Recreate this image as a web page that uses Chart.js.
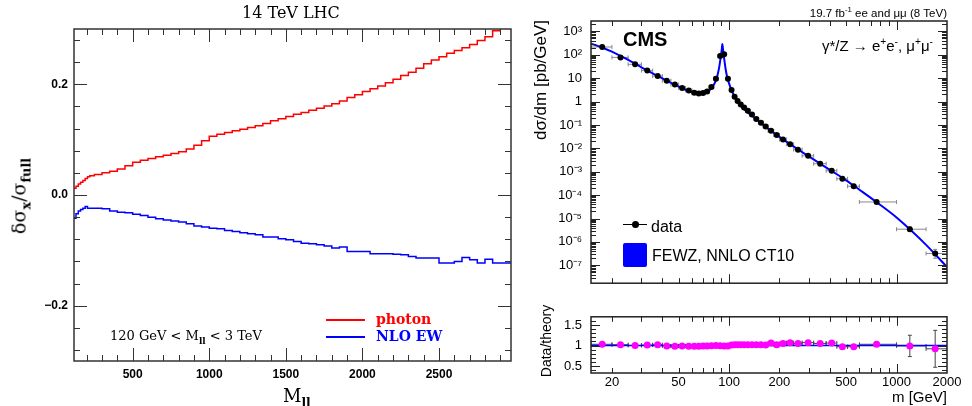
<!DOCTYPE html>
<html lang="en">
<head>
<meta charset="UTF-8">
<title>Photon / NLO EW corrections and CMS Drell-Yan cross section</title>
<script src="https://cdn.jsdelivr.net/npm/chart.js"></script>
<style>
  body { margin: 0; background: #fff; }
  #wrap { position: relative; width: 972px; height: 406px; overflow: hidden; }
  canvas { position: absolute; }
  .t { position: absolute; white-space: nowrap; line-height: 1; color: #000; }
  .serif { font-family: "DejaVu Serif", serif; }
  .sans { font-family: "Liberation Sans", Arial, sans-serif; }
  .rot { transform: translate(-50%, -50%) rotate(-90deg); }
  sub, sup { font-size: 68%; line-height: 0; }
  .box { position: absolute; }
</style>
</head>
<body>
<div id="wrap">
  <canvas id="leftChart" width="520" height="406" style="left:0;top:0"></canvas>
  <canvas id="xsecChart" width="452" height="300" style="left:520px;top:0"></canvas>
  <canvas id="ratioChart" width="452" height="106" style="left:520px;top:300px"></canvas>

  <!-- left panel texts -->
  <div class="t serif" style="left:242px;top:5px;font-size:16px">14 TeV LHC</div>
  <div class="t serif rot" style="left:19px;top:196px;font-size:19px">δσ<sub style="font-weight:bold">x</sub>/σ<sub style="font-weight:bold">full</sub></div>
  <div class="t serif" style="left:283px;top:387px;font-size:18px">M<sub style="font-weight:bold">ll</sub></div>
  <div class="t serif" style="left:110px;top:329px;font-size:13px">120 GeV &lt; M<sub style="font-weight:bold">ll</sub> &lt; 3 TeV</div>
  <div class="box" style="left:326px;top:319px;width:39px;height:1.5px;background:#ff0000"></div>
  <div class="t serif" style="left:376px;top:312px;font-size:14px;font-weight:bold;color:#ff0000">photon</div>
  <div class="box" style="left:326px;top:336px;width:39px;height:1.5px;background:#0000ff"></div>
  <div class="t serif" style="left:376px;top:329px;font-size:14px;font-weight:bold;color:#0000ff">NLO EW</div>

  <!-- right panel texts -->
  <div class="t sans" style="left:623px;top:29px;font-size:20px;font-weight:bold">CMS</div>
  <div class="t sans" style="right:25px;top:8px;font-size:11.5px">19.7 fb<sup>-1</sup> ee and μμ (8 TeV)</div>
  <div class="t sans" style="right:39px;top:38px;font-size:15px">γ*/Z → e<sup>+</sup>e<sup>-</sup>, μ<sup>+</sup>μ<sup>-</sup></div>
  <div class="t sans rot" style="left:540px;top:80px;font-size:17px">dσ/dm [pb/GeV]</div>
  <div class="t sans rot" style="left:546px;top:341px;font-size:14px">Data/theory</div>
  <div class="t sans" style="right:25px;top:389px;font-size:15px">m [GeV]</div>
  <div class="box" style="left:623px;top:224px;width:24px;height:1px;background:#000"></div>
  <div class="box" style="left:632px;top:221px;width:7px;height:7px;border-radius:50%;background:#000"></div>
  <div class="t sans" style="left:651px;top:219px;font-size:16px">data</div>
  <div class="box" style="left:623px;top:243px;width:24px;height:24px;border-radius:2px;background:#0000ff"></div>
  <div class="t sans" style="left:652px;top:248px;font-size:16px">FEWZ, NNLO CT10</div>
</div>

<script>
// ---------- left panel: delta sigma_x / sigma_full vs M_ll (14 TeV LHC) ----------
const mllEdges = [117, 130, 145, 160, 175, 190, 205, 220,
  250, 300, 350, 400, 450, 500, 550, 600, 650, 700, 750, 800, 850, 900, 950,
  1000, 1050, 1100, 1150, 1200, 1250, 1300, 1350, 1400, 1450, 1500, 1550, 1600,
  1650, 1700, 1750, 1800, 1850, 1900, 1950, 2000, 2050, 2100, 2150, 2200, 2250,
  2300, 2350, 2400, 2450, 2500, 2550, 2600, 2650, 2700, 2750, 2800, 2850, 2900,
  2950, 3000];

const photonCorr = [0.012, 0.016, 0.020, 0.023, 0.026, 0.030, 0.033, 0.035,
  0.037, 0.040, 0.043, 0.047, 0.053, 0.059, 0.063, 0.066, 0.069, 0.072, 0.075,
  0.078, 0.083, 0.090, 0.098, 0.106, 0.110, 0.113, 0.116, 0.119, 0.122, 0.125,
  0.129, 0.134, 0.138, 0.142, 0.146, 0.149, 0.153, 0.157, 0.161, 0.165, 0.170,
  0.176, 0.181, 0.187, 0.192, 0.197, 0.203, 0.209, 0.216, 0.222, 0.229, 0.237,
  0.244, 0.250, 0.256, 0.261, 0.266, 0.272, 0.279, 0.286, 0.297, 0.305, 0.310];

const nloEwCorr = [-0.042, -0.034, -0.029, -0.026, -0.024, -0.021, -0.024, -0.024,
  -0.024, -0.025, -0.029, -0.031, -0.032, -0.035, -0.037, -0.040, -0.043, -0.045,
  -0.047, -0.049, -0.052, -0.056, -0.058, -0.060, -0.061, -0.064, -0.066, -0.068,
  -0.070, -0.072, -0.076, -0.076, -0.079, -0.081, -0.084, -0.087, -0.088, -0.090,
  -0.092, -0.096, -0.094, -0.102, -0.102, -0.102, -0.106, -0.106, -0.106, -0.107,
  -0.108, -0.111, -0.114, -0.114, -0.114, -0.123, -0.123, -0.120, -0.113, -0.117,
  -0.123, -0.116, -0.123, -0.123, -0.123];

const leftXTicks = [500, 1000, 1500, 2000, 2500];
const leftXLabels = ['500', '1000', '1500', '2000', '2500'];
const leftYTicks = [-0.2, 0, 0.2];
const leftYLabels = ['\u22120.2', '0.0', '0.2'];

// ---------- right panel: CMS dsigma/dm, 8 TeV ----------
const massEdges = [15, 20, 25, 30, 35, 40, 45, 50, 55, 60, 64, 68, 72, 76, 81, 86,
  91, 96, 101, 106, 110, 115, 120, 126, 133, 141, 150, 160, 171, 185, 200, 220,
  243, 273, 320, 380, 440, 510, 600, 1000, 1500, 2000];

const dataMass = [17.5, 22.5, 27.5, 32.5, 37.5, 42.5, 47.5, 52.5, 57.5, 62, 66, 70,
  74, 78.5, 83.5, 88.5, 93.5, 98.5, 103.5, 108, 112.5, 117.5, 123, 129.5, 137,
  145.5, 155, 165.5, 178, 192.5, 210, 231.5, 258, 296.5, 350, 410, 475, 555,
  760, 1200, 1700];

const dataXsec = [214, 77, 39, 21, 12.3, 7.7, 5.3, 3.8, 3.0, 2.4, 2.2, 2.3, 2.7,
  4.2, 9.5, 88, 105, 9.5, 3.1, 1.6, 1.05, 0.75, 0.55, 0.40, 0.28, 0.18, 0.125,
  0.085, 0.056, 0.037, 0.024, 0.015, 0.0088, 0.0048, 0.0022, 0.0011, 5.0e-4,
  2.4e-4, 5.1e-5, 3.5e-6, 3.2e-7];

const dataRelErr = [0.03, 0.03, 0.03, 0.03, 0.03, 0.03, 0.03, 0.03, 0.03, 0.03,
  0.03, 0.03, 0.03, 0.03, 0.03, 0.03, 0.03, 0.03, 0.03, 0.03, 0.03, 0.03, 0.03,
  0.03, 0.03, 0.03, 0.03, 0.03, 0.03, 0.03, 0.03, 0.03, 0.03, 0.03, 0.04, 0.05,
  0.06, 0.08, 0.1, 0.25, 0.5];

const theoryMass = [15, 17.5, 20, 25, 30, 35, 40, 45, 50, 55, 60, 65, 70, 75, 80,
  84, 87, 89, 90.5, 91.2, 92, 93.5, 95, 97, 100, 104, 110, 115, 125, 140, 160,
  200, 250, 300, 400, 500, 600, 800, 1000, 1500, 2000];

const theoryXsec = [300, 205, 135, 60, 29, 16, 9.8, 6.3, 4.4, 3.2, 2.5, 2.2, 2.2,
  2.7, 4.4, 9, 25, 70, 170, 290, 180, 70, 30, 13, 6, 2.8, 1.3, 0.8, 0.42, 0.22,
  0.1, 0.031, 0.0105, 0.0045, 0.0012, 4.3e-4, 1.7e-4, 3.8e-5, 1.1e-5, 7.5e-7, 8.5e-8];

const ratio = [1.03, 1.02, 1.00, 1.01, 1.02, 0.99, 0.985, 0.99, 0.985, 0.985, 0.985,
  0.99, 0.99, 0.995, 1.0, 0.995, 0.99, 0.99, 1.01, 1.02, 1.02, 1.02, 1.02, 1.02,
  1.02, 1.02, 1.02, 1.01, 1.06, 1.02, 1.05, 1.07, 1.05, 1.07, 1.05, 1.06, 0.97,
  0.97, 1.03, 0.99, 0.92];

const ratioErr = [0.01, 0.01, 0.01, 0.01, 0.01, 0.01, 0.01, 0.01, 0.01, 0.01, 0.01,
  0.01, 0.01, 0.01, 0.01, 0.01, 0.01, 0.01, 0.01, 0.01, 0.01, 0.01, 0.01, 0.01,
  0.01, 0.01, 0.01, 0.01, 0.02, 0.01, 0.02, 0.02, 0.02, 0.02, 0.02, 0.03, 0.04,
  0.04, 0.05, 0.26, 0.45];

const ratioLineMass = [15, 2000];
const ratioLine = [1, 1];

const xsecYTicks = [1e3, 1e2, 1e1, 1, 1e-1, 1e-2, 1e-3, 1e-4, 1e-5, 1e-6, 1e-7];
const xsecYLabels = ['10\u00b3', '10\u00b2', '10', '1', '10\u207b\u00b9', '10\u207b\u00b2',
  '10\u207b\u00b3', '10\u207b\u2074', '10\u207b\u2075', '10\u207b\u2076', '10\u207b\u2077'];
const massXTicks = [20, 50, 100, 200, 500, 1000, 2000];
const massXLabels = ['20', '50', '100', '200', '500', '1000', '2000'];
const ratioYTicks = [0.5, 1, 1.5];
const ratioYLabels = ['0.5', '1', '1.5'];

// ---------- helpers ----------
function range(a, b, step) {
  const out = [];
  for (let v = a; v <= b + step / 1e6; v += step) out.push(+v.toFixed(6));
  return out;
}
function logMinor(lo, hi) {
  const out = [];
  for (let d = lo; d <= hi; d *= 10) for (let k = 2; k <= 9; k++) out.push(k * d);
  return out;
}

// frame box + inward ticks on all four sides (ROOT style)
const frameTicks = {
  id: 'frameTicks',
  afterDatasetsDraw(chart, args, o) {
    const { ctx, chartArea: a, scales } = chart;
    ctx.save();
    ctx.strokeStyle = o.color;
    ctx.lineWidth = 1;
    ctx.beginPath();
    const marks = (vals, len, axis) => {
      const s = scales[axis];
      vals.forEach(v => {
        const p = Math.round(s.getPixelForValue(v)) + 0.5;
        if (axis === 'x') {
          if (p <= a.left + 1 || p >= a.right - 1) return;
          ctx.moveTo(p, a.bottom); ctx.lineTo(p, a.bottom - len);
          ctx.moveTo(p, a.top); ctx.lineTo(p, a.top + len);
        } else {
          if (p <= a.top + 1 || p >= a.bottom - 1) return;
          ctx.moveTo(a.left, p); ctx.lineTo(a.left + len, p);
          ctx.moveTo(a.right, p); ctx.lineTo(a.right - len, p);
        }
      });
    };
    marks(o.xMinor, o.minorLen, 'x');
    marks(o.xMajor, o.majorLen, 'x');
    marks(o.yMinor, o.minorLen, 'y');
    marks(o.yMajor, o.majorLen, 'y');
    ctx.stroke();
    ctx.lineWidth = o.lineWidth;
    ctx.strokeRect(a.left, a.top, a.width, a.height);
    ctx.restore();
  }
};

// x/y error bars taken from dataset.errorBars
const errorBars = {
  id: 'errorBars',
  beforeDatasetsDraw(chart) {
    const { ctx, chartArea: a, scales: { x, y } } = chart;
    ctx.save();
    ctx.beginPath();
    ctx.rect(a.left, a.top, a.width, a.height);
    ctx.clip();
    chart.data.datasets.forEach(ds => {
      const e = ds.errorBars;
      if (!e) return;
      ctx.strokeStyle = e.color;
      ctx.lineWidth = 1;
      ctx.beginPath();
      ds.data.forEach((pt, i) => {
        const px = x.getPixelForValue(pt.x), py = y.getPixelForValue(pt.y);
        const x0 = x.getPixelForValue(e.xlo[i]), x1 = x.getPixelForValue(e.xhi[i]);
        const y0 = y.getPixelForValue(e.ylo[i]), y1 = y.getPixelForValue(e.yhi[i]);
        ctx.moveTo(x0, py); ctx.lineTo(x1, py);
        ctx.moveTo(x0, py - 2); ctx.lineTo(x0, py + 2);
        ctx.moveTo(x1, py - 2); ctx.lineTo(x1, py + 2);
        ctx.moveTo(px, y0); ctx.lineTo(px, y1);
        ctx.moveTo(px - 2, y0); ctx.lineTo(px + 2, y0);
        ctx.moveTo(px - 2, y1); ctx.lineTo(px + 2, y1);
      });
      ctx.stroke();
    });
    ctx.restore();
  }
};

Chart.register(frameTicks, errorBars);
Chart.defaults.animation = false;
Chart.defaults.plugins.legend.display = false;
Chart.defaults.plugins.tooltip.enabled = false;
Chart.defaults.color = '#000';

const sansBold = { family: '"Liberation Sans", Arial, sans-serif', size: 12, weight: 'bold' };
const sans = { family: '"Liberation Sans", Arial, sans-serif', size: 13 };

// ---------- left chart ----------
const stepData = vals => mllEdges.map((m, i) => ({ x: m, y: vals[Math.min(i, vals.length - 1)] }));

new Chart(document.getElementById('leftChart'), {
  type: 'line',
  data: {
    datasets: [
      { label: 'photon', data: stepData(photonCorr), borderColor: '#ff0000', borderWidth: 1.5,
        stepped: true, pointRadius: 0 },
      { label: 'NLO EW', data: stepData(nloEwCorr), borderColor: '#0000ff', borderWidth: 1.5,
        stepped: true, pointRadius: 0 }
    ]
  },
  options: {
    responsive: false,
    layout: { padding: { top: 29, right: 9, left: 0, bottom: 0 } },
    scales: {
      x: {
        type: 'linear', min: 117, max: 2970,
        grid: { display: false, drawTicks: false }, border: { display: false },
        afterBuildTicks: s => { s.ticks = leftXTicks.map(v => ({ value: v })); },
        afterFit: s => { s.height = 45; },
        ticks: { font: sansBold, padding: 6, maxRotation: 0, autoSkip: false,
                 callback: (v, i) => leftXLabels[i] }
      },
      y: {
        type: 'linear', min: -0.3, max: 0.3,
        grid: { display: false, drawTicks: false }, border: { display: false },
        afterBuildTicks: s => { s.ticks = leftYTicks.map(v => ({ value: v })); },
        afterFit: s => { s.width = 74; },
        ticks: { font: sansBold, padding: 6, callback: (v, i) => leftYLabels[i] }
      }
    },
    plugins: {
      frameTicks: {
        color: '#333', lineWidth: 1.5, majorLen: 13, minorLen: 6,
        xMajor: leftXTicks, xMinor: range(200, 2900, 100),
        yMajor: leftYTicks, yMinor: range(-0.28, 0.28, 0.04)
      }
    }
  }
});

// ---------- right top chart: cross section ----------
new Chart(document.getElementById('xsecChart'), {
  type: 'line',
  data: {
    datasets: [
      {
        label: 'data',
        data: dataMass.map((m, i) => ({ x: m, y: dataXsec[i] })),
        showLine: false, pointRadius: 3, pointBorderWidth: 0,
        pointBackgroundColor: '#000', borderColor: '#000',
        errorBars: {
          color: '#888',
          xlo: massEdges.slice(0, -1), xhi: massEdges.slice(1),
          ylo: dataXsec.map((v, i) => v * (1 - dataRelErr[i] * 0.75)),
          yhi: dataXsec.map((v, i) => v * (1 + dataRelErr[i]))
        }
      },
      {
        label: 'FEWZ, NNLO CT10',
        data: theoryMass.map((m, i) => ({ x: m, y: theoryXsec[i] })),
        borderColor: '#0000ff', borderWidth: 2, pointRadius: 0,
        cubicInterpolationMode: 'monotone'
      }
    ]
  },
  options: {
    responsive: false,
    layout: { padding: { top: 21, right: 25, left: 0, bottom: 1 } },
    scales: {
      x: { type: 'logarithmic', min: 15, max: 2000, display: false },
      y: {
        type: 'logarithmic', min: 1.72e-8, max: 2770,
        grid: { display: false, drawTicks: false }, border: { display: false },
        afterBuildTicks: s => { s.ticks = xsecYTicks.map(v => ({ value: v })); },
        afterFit: s => { s.width = 71; },
        ticks: { font: sans, padding: 9, autoSkip: false, callback: (v, i) => xsecYLabels[i] }
      }
    },
    plugins: {
      frameTicks: {
        color: '#222', lineWidth: 1.5, majorLen: 9, minorLen: 5,
        xMajor: [100, 1000], xMinor: logMinor(10, 1000),
        yMajor: xsecYTicks, yMinor: logMinor(1e-8, 1e3)
      }
    }
  }
});

// ---------- right bottom chart: data / theory ----------
new Chart(document.getElementById('ratioChart'), {
  type: 'line',
  data: {
    datasets: [
      {
        label: 'data/theory',
        data: dataMass.map((m, i) => ({ x: m, y: ratio[i] })),
        showLine: false, pointRadius: 3.5, pointBorderWidth: 0,
        pointBackgroundColor: '#ff00ff', borderColor: '#ff00ff',
        errorBars: {
          color: '#444',
          xlo: massEdges.slice(0, -1), xhi: massEdges.slice(1),
          ylo: ratio.map((v, i) => v - ratioErr[i]),
          yhi: ratio.map((v, i) => v + ratioErr[i])
        }
      },
      {
        label: 'theory',
        data: ratioLineMass.map((m, i) => ({ x: m, y: ratioLine[i] })),
        borderColor: '#0000ff', borderWidth: 1.5, pointRadius: 0
      }
    ]
  },
  options: {
    responsive: false,
    layout: { padding: { top: 3, right: 25, left: 0, bottom: 0 } },
    scales: {
      x: {
        type: 'logarithmic', min: 15, max: 2000,
        grid: { display: false, drawTicks: false }, border: { display: false },
        afterBuildTicks: s => { s.ticks = massXTicks.map(v => ({ value: v })); },
        afterFit: s => { s.height = 33; },
        ticks: { font: sans, padding: 2, maxRotation: 0, autoSkip: false,
                 callback: (v, i) => massXLabels[i] }
      },
      y: {
        type: 'linear', min: 0.33, max: 1.7,
        grid: { display: false, drawTicks: false }, border: { display: false },
        afterBuildTicks: s => { s.ticks = ratioYTicks.map(v => ({ value: v })); },
        afterFit: s => { s.width = 71; },
        ticks: { font: sans, padding: 9, callback: (v, i) => ratioYLabels[i] }
      }
    },
    plugins: {
      frameTicks: {
        color: '#222', lineWidth: 1.5, majorLen: 9, minorLen: 5,
        xMajor: [100, 1000], xMinor: logMinor(10, 1000),
        yMajor: ratioYTicks, yMinor: range(0.4, 1.6, 0.1)
      }
    }
  }
});
</script>
</body>
</html>
